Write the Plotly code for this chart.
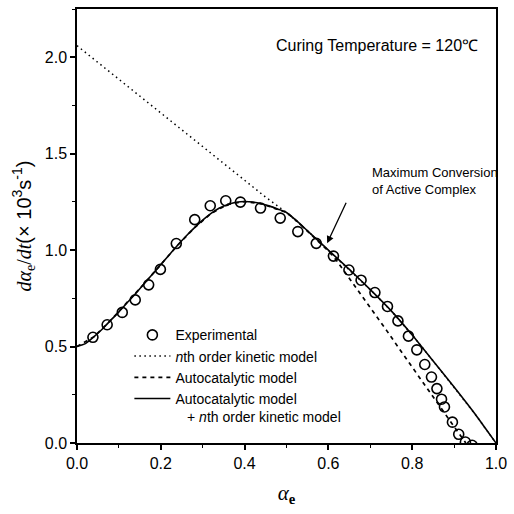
import plotly.graph_objects as go

# Experimental data (alpha_e, dalpha/dt x10^3 s^-1)
exp_x = [0.038, 0.072, 0.108, 0.139, 0.171, 0.199, 0.237, 0.281, 0.318, 0.355,
         0.390, 0.438, 0.485, 0.527, 0.571, 0.612, 0.649, 0.678, 0.711, 0.741,
         0.766, 0.791, 0.811, 0.830, 0.846, 0.859, 0.870, 0.877, 0.896, 0.911,
         0.927, 0.943]
exp_y = [0.548, 0.613, 0.677, 0.742, 0.820, 0.900, 1.034, 1.158, 1.230, 1.256,
         1.249, 1.218, 1.166, 1.096, 1.035, 0.969, 0.897, 0.844, 0.780, 0.708,
         0.633, 0.554, 0.483, 0.407, 0.342, 0.282, 0.227, 0.187, 0.108, 0.045,
         0.005, -0.012]

# Autocatalytic + nth order kinetic model (solid)
comb_x = [0.00, 0.02, 0.04, 0.06, 0.08, 0.10, 0.12, 0.14, 0.16, 0.18, 0.20, 0.22,
          0.24, 0.26, 0.28, 0.30, 0.32, 0.34, 0.36, 0.38, 0.40, 0.42, 0.44, 0.46,
          0.48, 0.50, 0.525, 0.55, 0.575, 0.60, 0.65, 0.70, 0.75, 0.80, 0.85,
          0.90, 0.95, 0.975, 1.00]
comb_y = [0.500, 0.515, 0.550, 0.590, 0.635, 0.680, 0.728, 0.775, 0.825, 0.875,
          0.925, 0.975, 1.025, 1.072, 1.115, 1.155, 1.190, 1.218, 1.237, 1.248,
          1.252, 1.249, 1.240, 1.228, 1.212, 1.195, 1.150, 1.100, 1.050, 1.000,
          0.900, 0.795, 0.685, 0.560, 0.425, 0.290, 0.150, 0.075, 0.000]

# Autocatalytic model (dashed)
auto_x = [0.00, 0.04, 0.08, 0.12, 0.16, 0.20, 0.24, 0.28, 0.32, 0.36, 0.40, 0.44,
          0.48, 0.50, 0.525, 0.55, 0.58, 0.60, 0.62, 0.66, 0.70, 0.74, 0.78,
          0.82, 0.86, 0.90, 0.928]
auto_y = [0.500, 0.550, 0.635, 0.728, 0.825, 0.925, 1.025, 1.115, 1.190, 1.237,
          1.252, 1.240, 1.212, 1.195, 1.150, 1.100, 1.040, 0.995, 0.945, 0.825,
          0.700, 0.580, 0.455, 0.330, 0.205, 0.085, 0.000]

# nth order kinetic model (dotted)
nth_x = [0.00, 0.10, 0.20, 0.30, 0.40, 0.45, 0.475, 0.50, 0.55, 0.60, 0.65, 0.70,
         0.75, 0.80, 0.85, 0.90, 0.95, 1.00]
nth_y = [2.060, 1.885, 1.710, 1.535, 1.360, 1.275, 1.235, 1.195, 1.100, 1.000,
         0.900, 0.795, 0.685, 0.560, 0.425, 0.290, 0.150, 0.000]

x_ticks = [0.0, 0.2, 0.4, 0.6, 0.8, 1.0]
x_ticktext = ["0.0", "0.2", "0.4", "0.6", "0.8", "1.0"]
y_ticks = [0.0, 0.5, 1.0, 1.5, 2.0]
y_ticktext = ["0.0", "0.5", "1.0", "1.5", "2.0"]

SANS = "Liberation Sans, Arial, sans-serif"
SERIF = "Liberation Serif, Times New Roman, serif"

fig = go.Figure()
fig.add_trace(go.Scatter(
    x=exp_x, y=exp_y, mode="markers", name="Experimental",
    marker=dict(symbol="circle-open", size=10, color="black",
                line=dict(width=1.6, color="black"))))
fig.add_trace(go.Scatter(
    x=nth_x, y=nth_y, mode="lines", name="<i>n</i>th order kinetic model",
    line=dict(color="black", width=1.5, dash="1.5px,3.5px")))
fig.add_trace(go.Scatter(
    x=auto_x, y=auto_y, mode="lines", name="Autocatalytic model",
    line=dict(color="black", width=1.7, dash="4px,4px")))
fig.add_trace(go.Scatter(
    x=comb_x, y=comb_y, mode="lines",
    name="Autocatalytic model<br>\u00a0\u00a0\u00a0+ <i>n</i>th order kinetic model",
    line=dict(color="black", width=1.6, shape="spline", smoothing=0.6)))

axis_common = dict(
    showline=True, linewidth=1.5, linecolor="black", mirror=True,
    showgrid=False, zeroline=False, ticks="outside", ticklen=5, tickwidth=1.5,
    tickcolor="black", tickfont=dict(family=SANS, size=16, color="black"),
)

fig.update_xaxes(
    range=[0, 1.0], tickvals=x_ticks, ticktext=x_ticktext,
    minor=dict(dtick=0.1, ticks="outside", ticklen=3, tickwidth=1.2, tickcolor="black"),
    title=dict(text="<i>α</i><sub><b>e</b></sub>", standoff=14,
               font=dict(family=SERIF, size=21, color="black")),
    **axis_common)
fig.update_yaxes(
    range=[0, 2.25], tickvals=y_ticks, ticktext=y_ticktext,
    minor=dict(dtick=0.25, ticks="outside", ticklen=3, tickwidth=1.2, tickcolor="black"),
    title=dict(text="<i>dα</i><sub>e</sub>/<i>dt</i>"
                    "<span style='font-family:Liberation Sans, Arial, sans-serif'>"
                    "(× 10<sup>3</sup>s<sup>-1</sup>)</span>",
               standoff=8, font=dict(family=SERIF, size=20, color="black")),
    **axis_common)

fig.add_annotation(
    x=0.962, y=2.062, xref="x", yref="y", xanchor="right", yanchor="middle",
    text="Curing Temperature = 120℃", showarrow=False,
    font=dict(family=SANS, size=16, color="black"))
fig.add_annotation(
    x=0.700, y=1.356, xref="x", yref="y", xanchor="left", yanchor="middle",
    align="left", text="Maximum Conversion<br>of Active Complex", showarrow=False,
    font=dict(family=SANS, size=13, color="black"))
fig.add_annotation(
    x=0.597, y=1.036, ax=0.644, ay=1.253, xref="x", yref="y", axref="x", ayref="y",
    text="", showarrow=True, arrowhead=2, arrowsize=1.1, arrowwidth=1.3,
    arrowcolor="black", standoff=0)

fig.update_layout(
    width=514, height=514,
    margin=dict(l=77, r=13, t=7, b=71),
    paper_bgcolor="white", plot_bgcolor="white",
    showlegend=True,
    legend=dict(x=0.125, y=0.285, xanchor="left", yanchor="top",
                bgcolor="rgba(0,0,0,0)", borderwidth=0, valign="top",
                itemwidth=36,
                font=dict(family=SANS, size=14, color="black"),
                tracegroupgap=0),
)

fig.write_html("out.html")
